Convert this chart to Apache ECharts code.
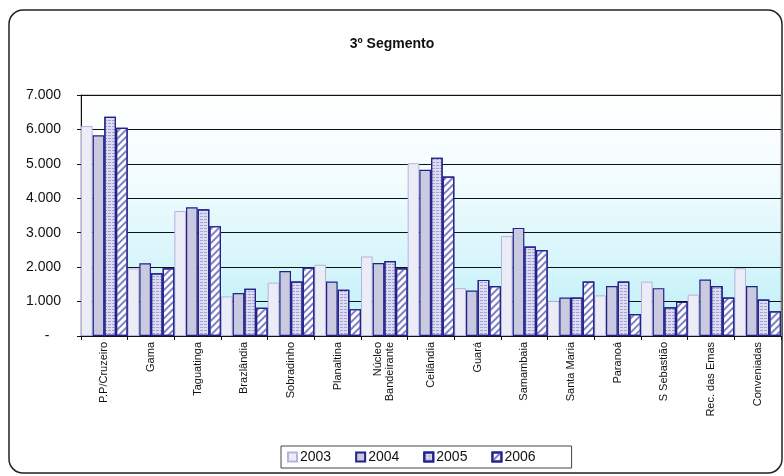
<!DOCTYPE html>
<html>
<head>
<meta charset="utf-8">
<script src="https://cdn.jsdelivr.net/npm/echarts@6/dist/echarts.min.js"></script>
<style>html,body{margin:0;padding:0;background:#fff}#c{width:784px;height:476px}</style>
</head>
<body>
<div id="c"></div>
<script>
var categories = ['P.P/Cruzeiro','Gama','Taguatinga','Brazlândia','Sobradinho','Planaltina','Núcleo\nBandeirante','Ceilândia','Guará','Samambaia','Santa Maria','Paranoá','S Sebastião','Rec. das Emas','Conveniadas'];
var seriesNames = ['2003','2004','2005','2006'];
var v2003 = [6100,1960,3630,1150,1550,2070,2310,5020,1390,2900,1020,1180,1580,1200,1970];
var v2004 = [5830,2110,3740,1250,1890,1580,2120,4830,1320,3140,1120,1450,1390,1640,1450];
var v2005 = [6370,1820,3680,1370,1580,1340,2180,5180,1630,2600,1120,1580,835,1450,1060];
var v2006 = [6050,1970,3190,820,1990,780,1970,4630,1450,2500,1580,640,990,1120,720];
var yTicks = [0,1000,2000,3000,4000,5000,6000,7000];

var values = [v2003, v2004, v2005, v2006];
var styles = [
  {color:'#ececf6', borderColor:'#b4b4dc', borderWidth:1},
  {color:'#c9c9df', borderColor:'#22228a', borderWidth:1.2},
  {color:'#dcdcf2', borderColor:'#22228a', borderWidth:1.2,
   decal:{symbol:'rect', symbolSize:1, dashArrayX:[[3,1]], dashArrayY:[1,2], color:'rgba(90,90,170,0.45)'}},
  {color:'#ffffff', borderColor:'#22228a', borderWidth:1.2,
   decal:{symbol:'rect', symbolSize:1, dashArrayX:[[1,0]], dashArrayY:[2,3], rotation:-Math.PI/4, color:'#8080c8'}}
];

var chart = echarts.init(document.getElementById('c'), null, {renderer:'canvas'});
function fmt(v){ if(v===0) return '-   '; var s=String(v); return s.replace(/\B(?=(\d{3})+(?!\d))/g,'.'); }

chart.setOption({
  animation:false,
  aria:{enabled:false},
  textStyle:{fontFamily:'Liberation Sans, Arial, sans-serif'},
  graphic:[{type:'rect', shape:{x:9, y:10, width:773, height:463, r:14}, style:{fill:'none', stroke:'#222', lineWidth:1.5}, z:-1}],
  title:{text:'3º Segmento', left:'center', top:32, textStyle:{fontSize:14, fontWeight:'bold', color:'#111', fontFamily:'Liberation Sans, Arial, sans-serif'}},
  legend:{
    data:seriesNames, bottom:8, left:281, itemWidth:9, itemHeight:9, itemGap:24, icon:'rect',
    borderColor:'#444', borderWidth:1, padding:[4,36,4,6],
    textStyle:{fontSize:14, color:'#111', padding:[0,0,0,-2]}
  },
  grid:{left:81, right:3, top:95, bottom:140, show:true, borderColor:'#999', borderWidth:1,
    backgroundColor:{type:'linear', x:0, y:0, x2:0, y2:1, colorStops:[{offset:0,color:'#ffffff'},{offset:0.35,color:'#f2fcfe'},{offset:1,color:'#bdeff9'}]}},
  xAxis:{
    type:'category', data:categories,
    axisLine:{lineStyle:{color:'#111', width:1}},
    axisTick:{show:true, length:4, lineStyle:{color:'#111'}, alignWithLabel:false},
    axisLabel:{rotate:90, interval:0, fontSize:11, color:'#111', margin:6, lineHeight:12}
  },
  yAxis:{
    type:'value', min:0, max:7000, interval:1000,
    axisLine:{show:true, lineStyle:{color:'#111'}},
    axisTick:{show:true, length:4, lineStyle:{color:'#111'}},
    splitLine:{lineStyle:{color:'#111', width:1}},
    axisLabel:{fontSize:14, color:'#111', margin:20, formatter:fmt}
  },
  series: seriesNames.map(function(n,i){
    return {name:n, type:'bar', data:values[i], barGap:'0%', barCategoryGap:'0%', itemStyle:styles[i]};
  })
});
</script>
</body>
</html>
